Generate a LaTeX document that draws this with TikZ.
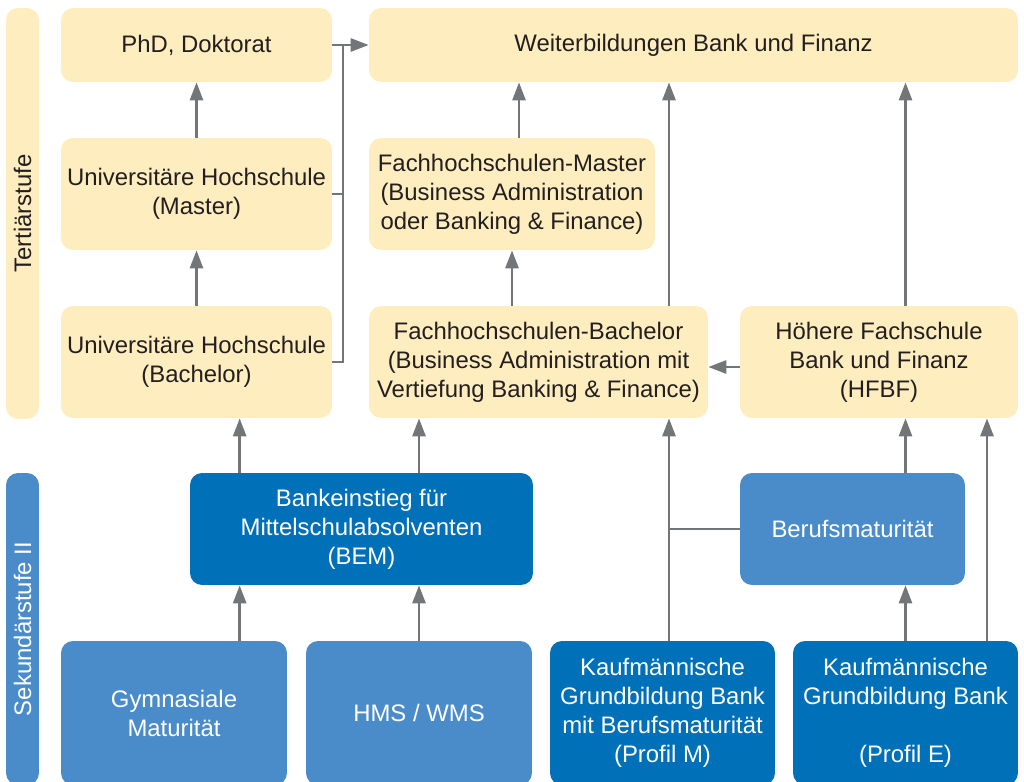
\documentclass[tikz,border=0pt]{standalone}
\usepackage{fontspec}
\setmainfont{Liberation Sans}
\usetikzlibrary{arrows.meta}
\definecolor{cream}{HTML}{FDEDBF}
\definecolor{midblue}{HTML}{4A8BC9}
\definecolor{darkblue}{HTML}{0070B8}
\definecolor{arrgray}{HTML}{737679}
\definecolor{txt}{HTML}{231F20}
\begin{document}
\begin{tikzpicture}[x=0.02cm,y=-0.02cm,
    box/.style={rounded corners=0.24cm, inner sep=0pt, align=center,
      font=\fontsize{13.6}{16.5}\selectfont},
    tbox/.style={box, fill=cream, text=txt},
    mbox/.style={box, fill=midblue, text=white},
    dbox/.style={box, fill=darkblue, text=white},
    line/.style={draw=arrgray, line width=1.5pt},
    arr/.style={line, -{Triangle[length=0.36cm,width=0.26cm]}}]

    \useasboundingbox (0,0) rectangle (1024,781);
    \clip (0,0) rectangle (1024,781);

    \node[tbox, rotate=90, minimum width=8.22cm, minimum height=0.66cm] (tert) at (22.5,213.5) {Tertiärstufe};
    \node[mbox, rotate=90, minimum width=6.24cm, minimum height=0.66cm] (sek) at (22.5,629) {Sekundärstufe II};

    \node[tbox, minimum width=5.42cm, minimum height=1.48cm] (phd) at (196.5,45) {PhD, Doktorat};
    \node[tbox, minimum width=12.98cm, minimum height=1.48cm] (weiter) at (693.5,45) {Weiterbildungen Bank und Finanz};
    \node[tbox, minimum width=5.42cm, minimum height=2.24cm] (umaster) at (196.5,194) {Universitäre Hochschule\\(Master)};
    \node[tbox, minimum width=5.72cm, minimum height=2.24cm] (fhmaster) at (512,194) {Fachhochschulen-Master\\(Business Administration\\oder Banking \& Finance)};
    \node[tbox, minimum width=5.42cm, minimum height=2.24cm] (ubach) at (196.5,362) {Universitäre Hochschule\\(Bachelor)};
    \node[tbox, minimum width=6.78cm, minimum height=2.24cm] (fhbach) at (538.5,362) {Fachhochschulen-Bachelor\\(Business Administration mit\\Vertiefung Banking \& Finance)};
    \node[tbox, minimum width=5.56cm, minimum height=2.24cm] (hfbf) at (879,362) {Höhere Fachschule\\Bank und Finanz\\(HFBF)};

    \node[dbox, minimum width=6.86cm, minimum height=2.24cm] (bem) at (361.5,529) {Bankeinstieg für\\Mittelschulabsolventen\\(BEM)};
    \node[mbox, minimum width=4.5cm, minimum height=2.24cm] (berufsm) at (852.5,529) {Berufsmaturität};

    \node[mbox, minimum width=4.52cm, minimum height=2.88cm] (gym) at (174,713) {Gymnasiale\\Maturität};
    \node[mbox, minimum width=4.52cm, minimum height=2.88cm] (hms) at (419,713) {HMS / WMS};
    \node[dbox, minimum width=4.5cm, minimum height=2.88cm] (kfmm) at (662.5,713) {Kaufmännische\\Grundbildung Bank\\mit Berufsmaturität\\(Profil M)};
    \node[dbox, minimum width=4.5cm, minimum height=2.88cm] (kfme) at (905.5,713) {Kaufmännische\\Grundbildung Bank\\\strut\\(Profil E)};

    \coordinate (jn) at (343,45);
    \coordinate (bl) at ([xshift=1cm]bem.north west);
    \coordinate (kup) at ([xshift=0.13cm]kfmm.north);
    \coordinate (ke) at ([xshift=1.63cm]kfme.north);
    \coordinate (hl) at ([yshift=-0.1cm]hfbf.west);
    \coordinate (fm) at ([xshift=0.14cm]fhmaster.north);

    \draw[arr] (umaster) -- (phd);
    \draw[arr] (ubach) -- (umaster);
    \draw[line] (ubach.east) -| (jn);
    \draw[line] (umaster.east) -- (umaster.east -| jn);
    \draw[arr] (phd.east) -- (weiter.west);
    \draw[arr] (fm) -- (fm |- weiter.south);
    \draw[arr] (fhmaster.south |- fhbach.north) -- (fhmaster.south);
    \draw[arr] (kup |- fhbach.north) -- (kup |- weiter.south);
    \draw[arr] (kfme.north |- hfbf.north) -- (kfme.north |- weiter.south);
    \draw[arr] (hl) -- (hl -| fhbach.east);
    \draw[arr] (bl) -- (bl |- ubach.south);
    \draw[arr] (hms.north |- bem.north) -- (hms.north |- fhbach.south);
    \draw[arr] (bl |- gym.north) -- (bl |- bem.south);
    \draw[arr] (hms.north) -- (hms.north |- bem.south);
    \draw[arr] (kup) -- (kup |- fhbach.south);
    \draw[line] (berufsm.west) -- (berufsm.west -| kup);
    \draw[arr] (kfme.north |- berufsm.north) -- (kfme.north |- hfbf.south);
    \draw[arr] (kfme.north) -- (kfme.north |- berufsm.south);
    \draw[arr] (ke) -- (ke |- hfbf.south);
\end{tikzpicture}
\end{document}
